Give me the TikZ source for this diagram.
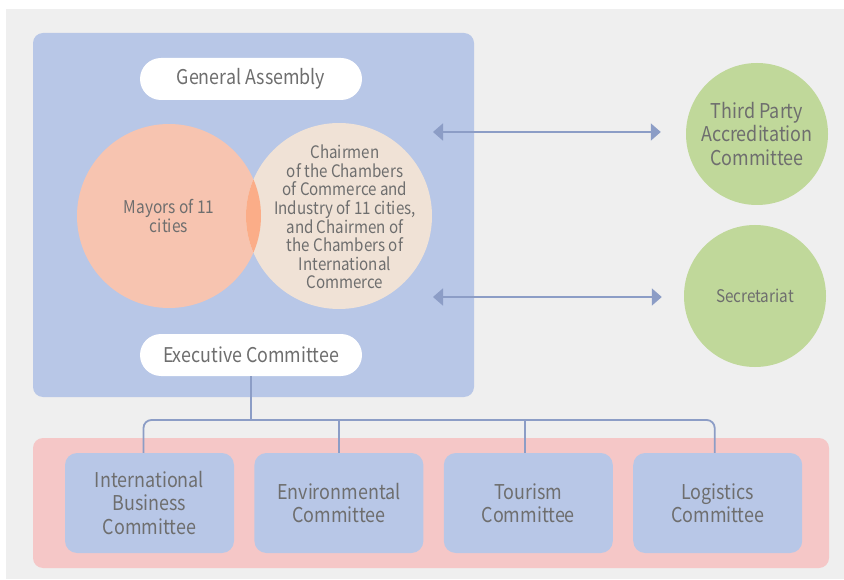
\documentclass[tikz,border=0pt]{standalone}
\usepackage{fontspec}
\setmainfont[FakeStretch=0.88]{Noto Sans CJK KR}
\usetikzlibrary{arrows.meta,positioning}
\definecolor{pagegray}{HTML}{EFEFEF}
\definecolor{boxblue}{HTML}{B8C7E7}
\definecolor{boxpink}{HTML}{F5C7C7}
\definecolor{mayorfill}{HTML}{F7C4B0}
\definecolor{chairfill}{HTML}{F0E2D6}
\definecolor{lensfill}{HTML}{FBAD88}
\definecolor{greenfill}{HTML}{C0D89A}
\definecolor{linkblue}{HTML}{8C9DC6}
\definecolor{textgray}{HTML}{6E6E6E}
\tikzset{%
  tipA/.tip={Triangle[length=10pt,width=17pt]},
  pill/.style={fill=white, rounded corners=21pt, minimum width=222pt, minimum height=42pt,
    text=textgray, font=\fontsize{20.3}{24}\selectfont},
  venn/.style={circle, inner sep=0pt},
  body/.style={text=textgray, align=center},
  greenball/.style={circle, fill=greenfill, minimum size=142pt, inner sep=0pt,
    text=textgray, align=center},
  committee/.style={fill=boxblue, rounded corners=12pt, minimum width=169pt, minimum height=100pt,
    text=textgray, align=center, font=\fontsize{20.4}{23.5}\selectfont},
  link/.style={linkblue, line width=1.8pt}
}

\begin{document}
\begin{tikzpicture}[x=1pt,y=-1pt]
\useasboundingbox (0,0) rectangle (844,580);
\fill[white] (0,0) rectangle (844,580);
\fill[pagegray] (6,9) rectangle (844,579);
% general assembly block
\fill[boxblue, rounded corners=10pt] (33,33) rectangle (474,397);
\node[pill] (ga) at (251,79) {General Assembly};
\node[pill] (ec) at (251,355) {Executive Committee};
\node[venn, fill=mayorfill, minimum size=184pt, body, font=\fontsize{17.6}{19}\selectfont] (mayors) at (169,216) {Mayors of 11\\cities};
\node[venn, fill=chairfill, minimum size=186pt] (chairs) at (339,216) {};
\begin{scope}
  \clip (169,216) circle (92);
  \fill[lensfill] (339,216) circle (93);
\end{scope}
\node[body, font=\fontsize{17.2}{18.6}\selectfont] (chairtext) at (345,217) {Chairmen\\of the Chambers\\of Commerce and\\Industry of 11 cities,\\and Chairmen of\\the Chambers of\\International\\Commerce};
% outside bodies
\node[greenball, font=\fontsize{20.4}{23.5}\selectfont] (tpac) at (757,134) {Third Party\\Accreditation\\Committee};
\node[greenball, font=\fontsize{17.4}{20}\selectfont] (sec) at (755,296) {Secretariat};
\coordinate (tpacport) at (433,132);
\coordinate (secport) at (433,297);
\draw[link, tipA-tipA, shorten >=25pt] (tpacport) -- (tpacport -| tpac.west);
\draw[link, tipA-tipA, shorten >=22pt] (secport) -- (secport -| sec.west);
% committees
\fill[boxpink, rounded corners=10pt] (33,438) rectangle (829,568);
\node[committee] (ib) at (149.5,503) {International\\Business\\Committee};
\node[committee, right=20pt of ib] (env) {Environmental\\Committee};
\node[committee, right=20pt of env] (tour) {Tourism\\Committee};
\node[committee, right=20pt of tour] (logi) {Logistics\\Committee};
\coordinate (bus) at (0,420);
\draw[link] (ec.south) -- (ec.south |- bus);
\draw[link, rounded corners=8pt] ([xshift=-6pt]ib.north) -- ([xshift=-6pt]ib.north |- bus)
  -- ([xshift=-3pt]logi.north |- bus) -- ([xshift=-3pt]logi.north);
\draw[link] (env.north) -- (env.north |- bus);
\draw[link] ([xshift=-3pt]tour.north) -- ([xshift=-3pt]tour.north |- bus);
\end{tikzpicture}
\end{document}
